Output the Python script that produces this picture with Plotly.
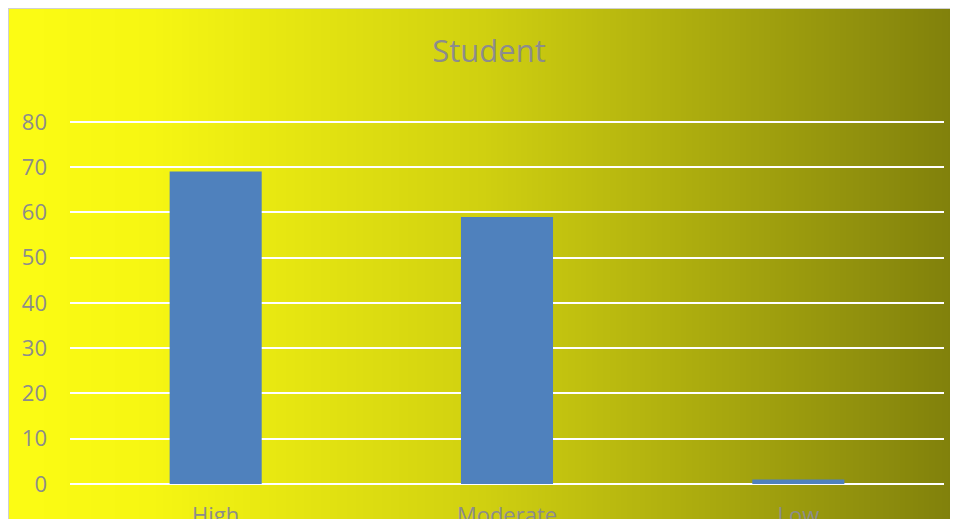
import base64, zlib, struct
import plotly.graph_objects as go

categories = ["High", "Moderate", "Low"]
values = [69, 59, 1]
y_ticks = [0, 10, 20, 30, 40, 50, 60, 70, 80]

W, H = 950, 511
L, R, T, B = 62, 14, 112, 35
pw, ph = W - L - R, H - T - B

stops = [(0.0, (252, 252, 20)), (0.15, (246, 246, 18)), (0.5, (208, 208, 16)), (1.0, (128, 128, 12))]

def gradient_png(stops, n=512):
    row = b"\x00"
    for i in range(n):
        t = i / (n - 1)
        for j in range(len(stops) - 1):
            if stops[j][0] <= t <= stops[j + 1][0]:
                a, b = stops[j], stops[j + 1]
                u = (t - a[0]) / (b[0] - a[0])
                row += bytes(int(round(a[1][k] + (b[1][k] - a[1][k]) * u)) for k in range(3))
                break
    def chunk(tag, data):
        c = struct.pack(">I", len(data)) + tag + data
        return c + struct.pack(">I", zlib.crc32(tag + data) & 0xffffffff)
    png = b"\x89PNG\r\n\x1a\n"
    png += chunk(b"IHDR", struct.pack(">IIBBBBB", n, 1, 8, 2, 0, 0, 0))
    png += chunk(b"IDAT", zlib.compress(row))
    png += chunk(b"IEND", b"")
    return "data:image/png;base64," + base64.b64encode(png).decode()

img = gradient_png(stops)

fig = go.Figure(go.Bar(x=categories, y=values, marker_color="#4F81BD",
                       marker_line_width=0, width=0.316))

fig.add_layout_image(dict(source=img, xref="paper", yref="paper",
                          x=-L / pw, y=1 + T / ph,
                          sizex=W / pw, sizey=H / ph,
                          xanchor="left", yanchor="top", sizing="stretch",
                          layer="below"))
fig.add_shape(type="line", xref="paper", yref="paper",
              x0=-L / pw, x1=(W - L) / pw, y0=1 + (T - 0.5) / ph, y1=1 + (T - 0.5) / ph,
              line=dict(color="#d0d0d0", width=1))
fig.add_shape(type="line", xref="paper", yref="paper",
              x0=(0.5 - L) / pw, x1=(0.5 - L) / pw, y0=1 + T / ph, y1=-B / ph,
              line=dict(color="#d0d0d0", width=1))

font = "Open Sans, Noto Sans, sans-serif"
fig.update_layout(
    width=W, height=H,
    margin=dict(l=L, r=R, t=T, b=B, autoexpand=False),
    paper_bgcolor="white", plot_bgcolor="rgba(0,0,0,0)",
    title=dict(text="Student", x=481 / W, xanchor="center", y=1 - 43 / H, yanchor="middle",
               font=dict(family=font, size=31, color="#8c8c8c")),
    showlegend=False,
    bargap=0.684,
    xaxis=dict(showgrid=False, showline=False, ticks="", automargin=False,
               tickfont=dict(family=font, size=22, color="#8c8c8c"),
               ticklabelstandoff=16),
    yaxis=dict(range=[0, 80.4], tickvals=y_ticks, showgrid=True, gridcolor="white", gridwidth=2,
               zeroline=True, zerolinecolor="white", zerolinewidth=2, showline=False,
               automargin=False,
               tickfont=dict(family=font, size=22, color="#8c8c8c"),
               ticklabelstandoff=22),
)

fig.write_html("out.html")
